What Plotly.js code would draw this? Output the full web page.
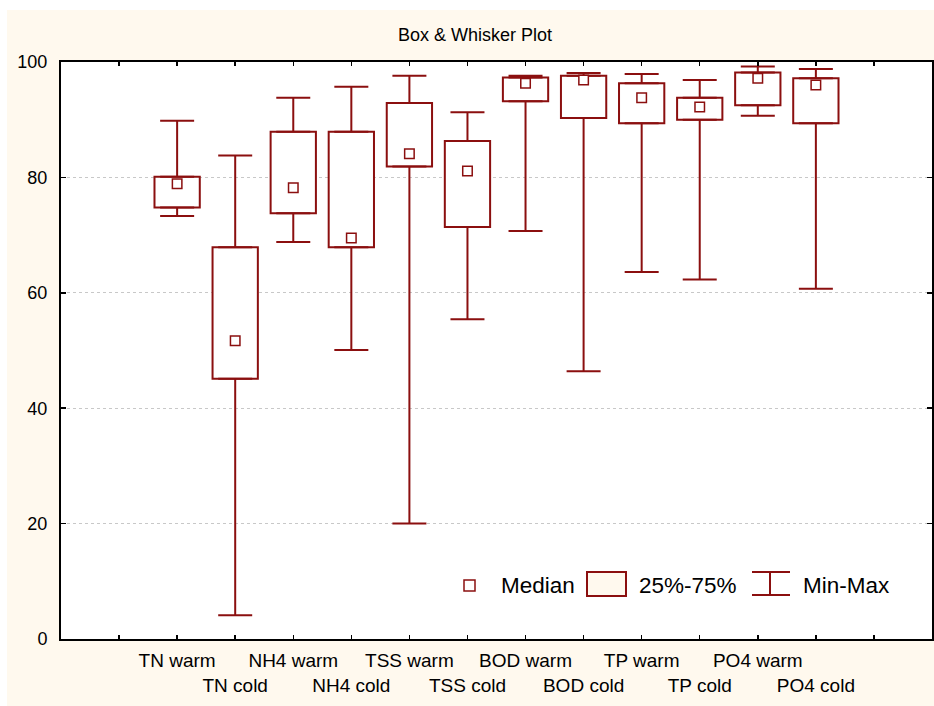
<!DOCTYPE html>
<html>
<head>
<meta charset="utf-8">
<script src="https://cdn.plot.ly/plotly-3.0.1.min.js"></script>
<style>html,body{margin:0;padding:0;background:#fff;}#chart{width:934px;height:706px;}</style>
</head>
<body>
<div id="chart"></div>
<script>
// ---- data ----
const categories = ['TN warm','TN cold','NH4 warm','NH4 cold','TSS warm','TSS cold','BOD warm','BOD cold','TP warm','TP cold','PO4 warm','PO4 cold'];
const minVals    = [73.3, 4.1, 68.8, 50.1, 20.0, 55.4, 70.7, 46.4, 63.6, 62.3, 90.7, 60.7];
const q1Vals     = [74.8, 45.1, 73.8, 67.9, 81.9, 71.4, 93.2, 90.3, 89.4, 90.0, 92.5, 89.4];
const medianVals = [78.9, 51.7, 78.2, 69.5, 84.1, 81.1, 96.3, 96.9, 93.8, 92.2, 97.2, 96.0];
const q3Vals     = [80.1, 67.9, 87.9, 87.9, 92.9, 86.3, 97.3, 97.6, 96.3, 93.8, 98.2, 97.2];
const maxVals    = [89.8, 83.8, 93.8, 95.7, 97.6, 91.3, 97.6, 98.1, 97.9, 96.9, 99.2, 98.8];
const yTicks     = [0, 20, 40, 60, 80, 100];
const legendLabels = ['Median', '25%-75%', 'Min-Max'];
const titleText = 'Box & Whisker Plot';

// ---- styling ----
const RED = '#8b0f0f';
const CREAM = '#fff9ee';
const FONT = 'Liberation Sans, Arial, sans-serif';
const W = 934, H = 706;
const M = {l: 61, r: 2, t: 62, b: 67};
const PW = W - M.l - M.r, PH = H - M.t - M.b;
const PX = px => (px - M.l) / PW;          // pixel -> paper x
const PY = py => (H - M.b - py) / PH;      // pixel -> paper y

const xpos = categories.map((c, i) => i + 1);
const tickvals = [0].concat(xpos, [categories.length + 1]);
const ticktext = [''].concat(categories.map((c, i) => i % 2 === 1 ? '<br>' + c : c), ['']);

const boxes = {
  type: 'bar', x: xpos, base: q1Vals,
  y: q3Vals.map((v, i) => v - q1Vals[i]),
  width: 0.78,
  marker: {color: '#ffffff', line: {color: RED, width: 2}},
  hoverinfo: 'skip', showlegend: false
};
const upperWhisker = {
  type: 'scatter', mode: 'markers', x: xpos, y: q3Vals,
  marker: {size: 1, opacity: 0},
  error_y: {type: 'data', symmetric: false,
    array: maxVals.map((v, i) => v - q3Vals[i]),
    arrayminus: q3Vals.map(() => 0),
    color: RED, thickness: 2, width: 17},
  hoverinfo: 'skip', showlegend: false
};
const lowerWhisker = {
  type: 'scatter', mode: 'markers', x: xpos, y: q1Vals,
  marker: {size: 1, opacity: 0},
  error_y: {type: 'data', symmetric: false,
    array: q1Vals.map(() => 0),
    arrayminus: q1Vals.map((v, i) => v - minVals[i]),
    color: RED, thickness: 2, width: 17},
  hoverinfo: 'skip', showlegend: false
};
const medians = {
  type: 'scatter', mode: 'markers', x: xpos, y: medianVals,
  marker: {symbol: 'square', size: 9.5, color: '#ffffff', line: {color: RED, width: 1.5}},
  hoverinfo: 'skip', showlegend: false
};

const shapes = [
  // white margin bands around the cream panel
  {type: 'rect', xref: 'paper', yref: 'paper', layer: 'below', x0: PX(0), x1: PX(W), y0: PY(10), y1: PY(0), fillcolor: '#ffffff', line: {width: 0}},
  {type: 'rect', xref: 'paper', yref: 'paper', layer: 'below', x0: PX(0), x1: PX(7), y0: PY(H), y1: PY(0), fillcolor: '#ffffff', line: {width: 0}},
  // legend symbols
  {type: 'rect', xref: 'paper', yref: 'paper', x0: PX(464), x1: PX(475), y0: PY(591), y1: PY(580), fillcolor: '#ffffff', line: {color: RED, width: 1.5}},
  {type: 'rect', xref: 'paper', yref: 'paper', x0: PX(587), x1: PX(626), y0: PY(596), y1: PY(572), fillcolor: CREAM, line: {color: RED, width: 2}},
  {type: 'line', xref: 'paper', yref: 'paper', x0: PX(770), x1: PX(770), y0: PY(595), y1: PY(572), line: {color: RED, width: 2}},
  {type: 'line', xref: 'paper', yref: 'paper', x0: PX(752), x1: PX(790), y0: PY(572), y1: PY(572), line: {color: RED, width: 2}},
  {type: 'line', xref: 'paper', yref: 'paper', x0: PX(752), x1: PX(790), y0: PY(595), y1: PY(595), line: {color: RED, width: 2}}
];
const legX = [499, 637, 801];
const annotations = legendLabels.map((t, i) => ({
  text: t, xref: 'paper', yref: 'paper', x: PX(legX[i]), y: PY(585),
  xanchor: 'left', yanchor: 'middle', showarrow: false,
  font: {family: FONT, size: 22.5, color: '#000'}
}));

const layout = {
  width: W, height: H, autosize: false,
  margin: M,
  paper_bgcolor: CREAM, plot_bgcolor: '#ffffff',
  font: {family: FONT, color: '#000'},
  title: {text: titleText, font: {family: FONT, size: 18, color: '#000'},
          xref: 'paper', x: PX(475), xanchor: 'center', yref: 'container', y: 1 - 35 / H, yanchor: 'middle'},
  showlegend: false,
  xaxis: {range: [-1, categories.length + 2], tickmode: 'array', tickvals: tickvals, ticktext: ticktext,
          tickangle: 0,
          ticks: 'inside', ticklen: 4, tickwidth: 1.5, tickcolor: '#000',
          showline: true, linewidth: 2, linecolor: '#000', mirror: 'ticks',
          showgrid: false, zeroline: false, tickfont: {family: FONT, size: 19, color: '#000'},
          ticklabelstandoff: 3, fixedrange: true},
  yaxis: {range: [0, 100], tickmode: 'array', tickvals: yTicks,
          ticks: 'inside', ticklen: 5, tickwidth: 1.5, tickcolor: '#000',
          showline: true, linewidth: 2, linecolor: '#000', mirror: 'ticks',
          showgrid: true, gridcolor: '#c8c8c8', gridwidth: 1, griddash: 'dot',
          zeroline: false, tickfont: {family: FONT, size: 18, color: '#000'},
          ticklabelstandoff: 8, fixedrange: true},
  shapes: shapes,
  annotations: annotations
};

Plotly.newPlot('chart', [boxes, upperWhisker, lowerWhisker, medians], layout, {displayModeBar: false, staticPlot: true});
</script>
</body>
</html>
